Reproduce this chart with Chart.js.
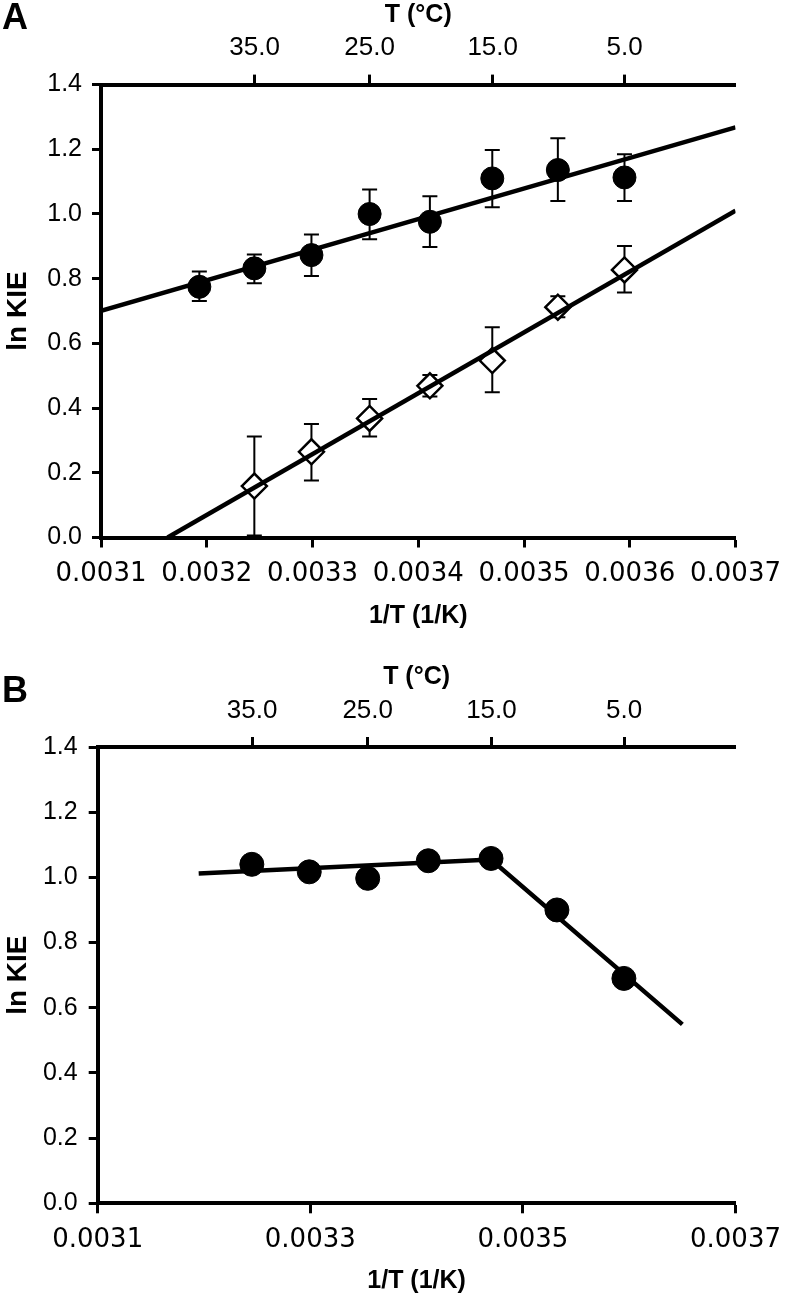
<!DOCTYPE html>
<html>
<head>
<meta charset="utf-8">
<title>ln KIE vs 1/T</title>
<script src="https://cdn.jsdelivr.net/npm/chart.js@4.4.1/dist/chart.umd.min.js"></script>
<style>
  html, body { margin: 0; padding: 0; background: #fff; }
  #wrap { position: relative; width: 792px; height: 1296px; }
  canvas { position: absolute; left: 0; }
  #panel-a { top: 0; }
  #panel-b { top: 662px; }
</style>
</head>
<body>
<div id="wrap">
  <canvas id="panel-a" width="792" height="650"></canvas>
  <canvas id="panel-b" width="792" height="634"></canvas>
</div>
<script>
// 1/T (1/K) at 40, 35, 30, 25, 20, 15, 10, 5 °C
const invT = [0.003193, 0.003245, 0.003299, 0.003354, 0.003411, 0.003470, 0.003532, 0.003595];

// panel A, filled circles
const kieA = [0.775, 0.832, 0.873, 1.000, 0.976, 1.110, 1.136, 1.113];
const kieAHi = [0.822, 0.875, 0.937, 1.076, 1.055, 1.198, 1.234, 1.185];
const kieALo = [0.731, 0.786, 0.808, 0.922, 0.898, 1.021, 1.040, 1.040];

// panel A, open diamonds (35 -> 5 °C)
const invTDia = [0.003245, 0.003299, 0.003354, 0.003411, 0.003470, 0.003532, 0.003595];
const kieDia = [0.159, 0.265, 0.368, 0.469, 0.547, 0.712, 0.827];
const kieDiaHi = [0.312, 0.351, 0.428, 0.502, 0.650, 0.746, 0.901];
const kieDiaLo = [0.006, 0.176, 0.312, 0.436, 0.449, 0.681, 0.757];

// fitted lines, panel A
const fitCircX = [0.0031, 0.0037];
const fitCircY = [0.701, 1.268];
const fitDiaX = [0.003163, 0.0037];
const fitDiaY = [0.0, 1.010];

// panel B
const invTB = [0.003245, 0.003299, 0.003354, 0.003411, 0.003470, 0.003532, 0.003595];
const kieB = [1.040, 1.017, 0.997, 1.051, 1.058, 0.900, 0.690];
const fitBX = [0.003195, 0.003470, 0.003650];
const fitBY = [1.012, 1.055, 0.549];

// axes
const yTicks = [0, 0.2, 0.4, 0.6, 0.8, 1.0, 1.2, 1.4];
const xTicksA = [0.0031, 0.0032, 0.0033, 0.0034, 0.0035, 0.0036, 0.0037];
const xTicksB = [0.0031, 0.0033, 0.0035, 0.0037];
const tempLabels = ["35.0", "25.0", "15.0", "5.0"];
const tempTickX = [0.0032452, 0.0033540, 0.0034704, 0.0035952];

const svart = "#000";

function punkter(xs, ys) {
  return xs.map((x, i) => ({ x: x, y: ys[i] }));
}

// vertical error bars with caps, drawn under the markers
const feilstolper = {
  id: "feilstolper",
  beforeDatasetsDraw(chart) {
    const ctx = chart.ctx;
    const xs = chart.scales.x;
    const ys = chart.scales.y;
    chart.data.datasets.forEach((ds) => {
      if (!ds.errHi) return;
      ctx.save();
      ctx.strokeStyle = svart;
      ctx.lineWidth = 2;
      ds.data.forEach((p, i) => {
        const px = xs.getPixelForValue(p.x);
        const topp = ys.getPixelForValue(ds.errHi[i]);
        const bunn = ys.getPixelForValue(ds.errLo[i]);
        ctx.beginPath();
        ctx.moveTo(px, topp);
        ctx.lineTo(px, bunn);
        ctx.moveTo(px - 7.5, topp);
        ctx.lineTo(px + 7.5, topp);
        ctx.moveTo(px - 7.5, bunn);
        ctx.lineTo(px + 7.5, bunn);
        ctx.stroke();
      });
      ctx.restore();
    });
  },
};

const panelBokstav = {
  id: "panelBokstav",
  afterDraw(chart, args, opts) {
    const ctx = chart.ctx;
    ctx.save();
    ctx.font = 'bold 36px "Liberation Sans"';
    ctx.fillStyle = svart;
    ctx.textBaseline = "alphabetic";
    ctx.fillText(opts.text, 2, opts.y);
    ctx.restore();
  },
};

function lagPanel(id, bokstav, datasets, xTicks, b) {
  const akseTittel = (tekst, size, pad) => ({
    display: true,
    text: tekst,
    color: svart,
    font: { family: "Liberation Sans", size: size, weight: "bold" },
    padding: pad,
  });

  new Chart(document.getElementById(id), {
    type: "scatter",
    data: { datasets: datasets },
    options: {
      responsive: false,
      animation: false,
      events: [],
      layout: { padding: { left: 0, right: 792 - b.right, top: 0, bottom: 0 } },
      plugins: {
        legend: { display: false },
        tooltip: { enabled: false },
        panelBokstav: { text: bokstav, y: b.tagY },
      },
      scales: {
        x: {
          type: "linear",
          position: "bottom",
          min: 0.0031,
          max: 0.0037,
          afterBuildTicks: (s) => {
            s.ticks = xTicks.map((v) => ({ value: v }));
          },
          afterFit: (s) => {
            s.height = b.height - b.bottom;
          },
          ticks: {
            autoSkip: false,
            maxRotation: 0,
            padding: 11,
            color: svart,
            font: { family: "DejaVu Sans", size: 26 },
            callback: (v) => Number(v).toFixed(4),
          },
          grid: { drawOnChartArea: false, tickLength: 10, tickWidth: 3, tickColor: svart },
          border: { color: svart, width: 4 },
          title: akseTittel("1/T (1/K)", 25, { top: 0, bottom: b.titlePad }),
        },
        xTop: {
          type: "linear",
          axis: "x",
          position: "top",
          min: 0.0031,
          max: 0.0037,
          afterBuildTicks: (s) => {
            s.ticks = tempTickX.map((v) => ({ value: v }));
          },
          afterFit: (s) => {
            s.height = b.top;
          },
          ticks: {
            autoSkip: false,
            maxRotation: 0,
            padding: 11,
            color: svart,
            font: { family: "Liberation Sans", size: 26 },
            callback: (v, i) => tempLabels[i],
          },
          grid: { drawOnChartArea: false, tickLength: 10, tickWidth: 3, tickColor: svart },
          border: { color: svart, width: 4 },
          title: akseTittel("T (°C)", 25, { top: 0, bottom: 0 }),
        },
        y: {
          type: "linear",
          position: "left",
          min: 0,
          max: 1.4,
          afterBuildTicks: (s) => {
            s.ticks = yTicks.map((v) => ({ value: v }));
          },
          afterFit: (s) => {
            s.width = b.left;
          },
          ticks: {
            padding: b.yPad,
            color: svart,
            font: { family: "Liberation Sans", size: 25 },
            callback: (v) => Number(v).toFixed(1),
          },
          grid: { drawOnChartArea: false, tickLength: 9, tickWidth: 3, tickColor: svart },
          border: { color: svart, width: 4 },
          title: akseTittel("ln KIE", 28, { top: 1, bottom: 0 }),
        },
      },
    },
    plugins: [feilstolper, panelBokstav],
  });
}

const fyltSirkel = (data, r, extra) =>
  Object.assign(
    {
      data: data,
      pointStyle: "circle",
      pointRadius: r,
      backgroundColor: svart,
      borderColor: svart,
      borderWidth: 1,
      order: 1,
    },
    extra || {}
  );

const linje = (data) => ({
  data: data,
  showLine: true,
  pointRadius: 0,
  borderColor: svart,
  borderWidth: 4.5,
  fill: false,
  order: 0,
});

lagPanel(
  "panel-a",
  "A",
  [
    fyltSirkel(punkter(invT, kieA), 11.5, { errHi: kieAHi, errLo: kieALo }),
    {
      data: punkter(invTDia, kieDia),
      pointStyle: "rectRot",
      pointRadius: 12.5,
      backgroundColor: "#fff",
      borderColor: svart,
      borderWidth: 2.5,
      errHi: kieDiaHi,
      errLo: kieDiaLo,
      order: 1,
    },
    linje(punkter(fitCircX, fitCircY)),
    linje(punkter(fitDiaX, fitDiaY)),
  ],
  xTicksA,
  { left: 101, right: 739, top: 84.6, bottom: 537.5, height: 650, titlePad: 19, yPad: 10, tagY: 29 }
);

lagPanel(
  "panel-b",
  "B",
  [fyltSirkel(punkter(invTB, kieB), 12), linje(punkter(fitBX, fitBY))],
  xTicksB,
  { left: 97.7, right: 747.6, top: 85, bottom: 541.3, height: 634, titlePad: 0, yPad: 11, tagY: 40 }
);
</script>
</body>
</html>
